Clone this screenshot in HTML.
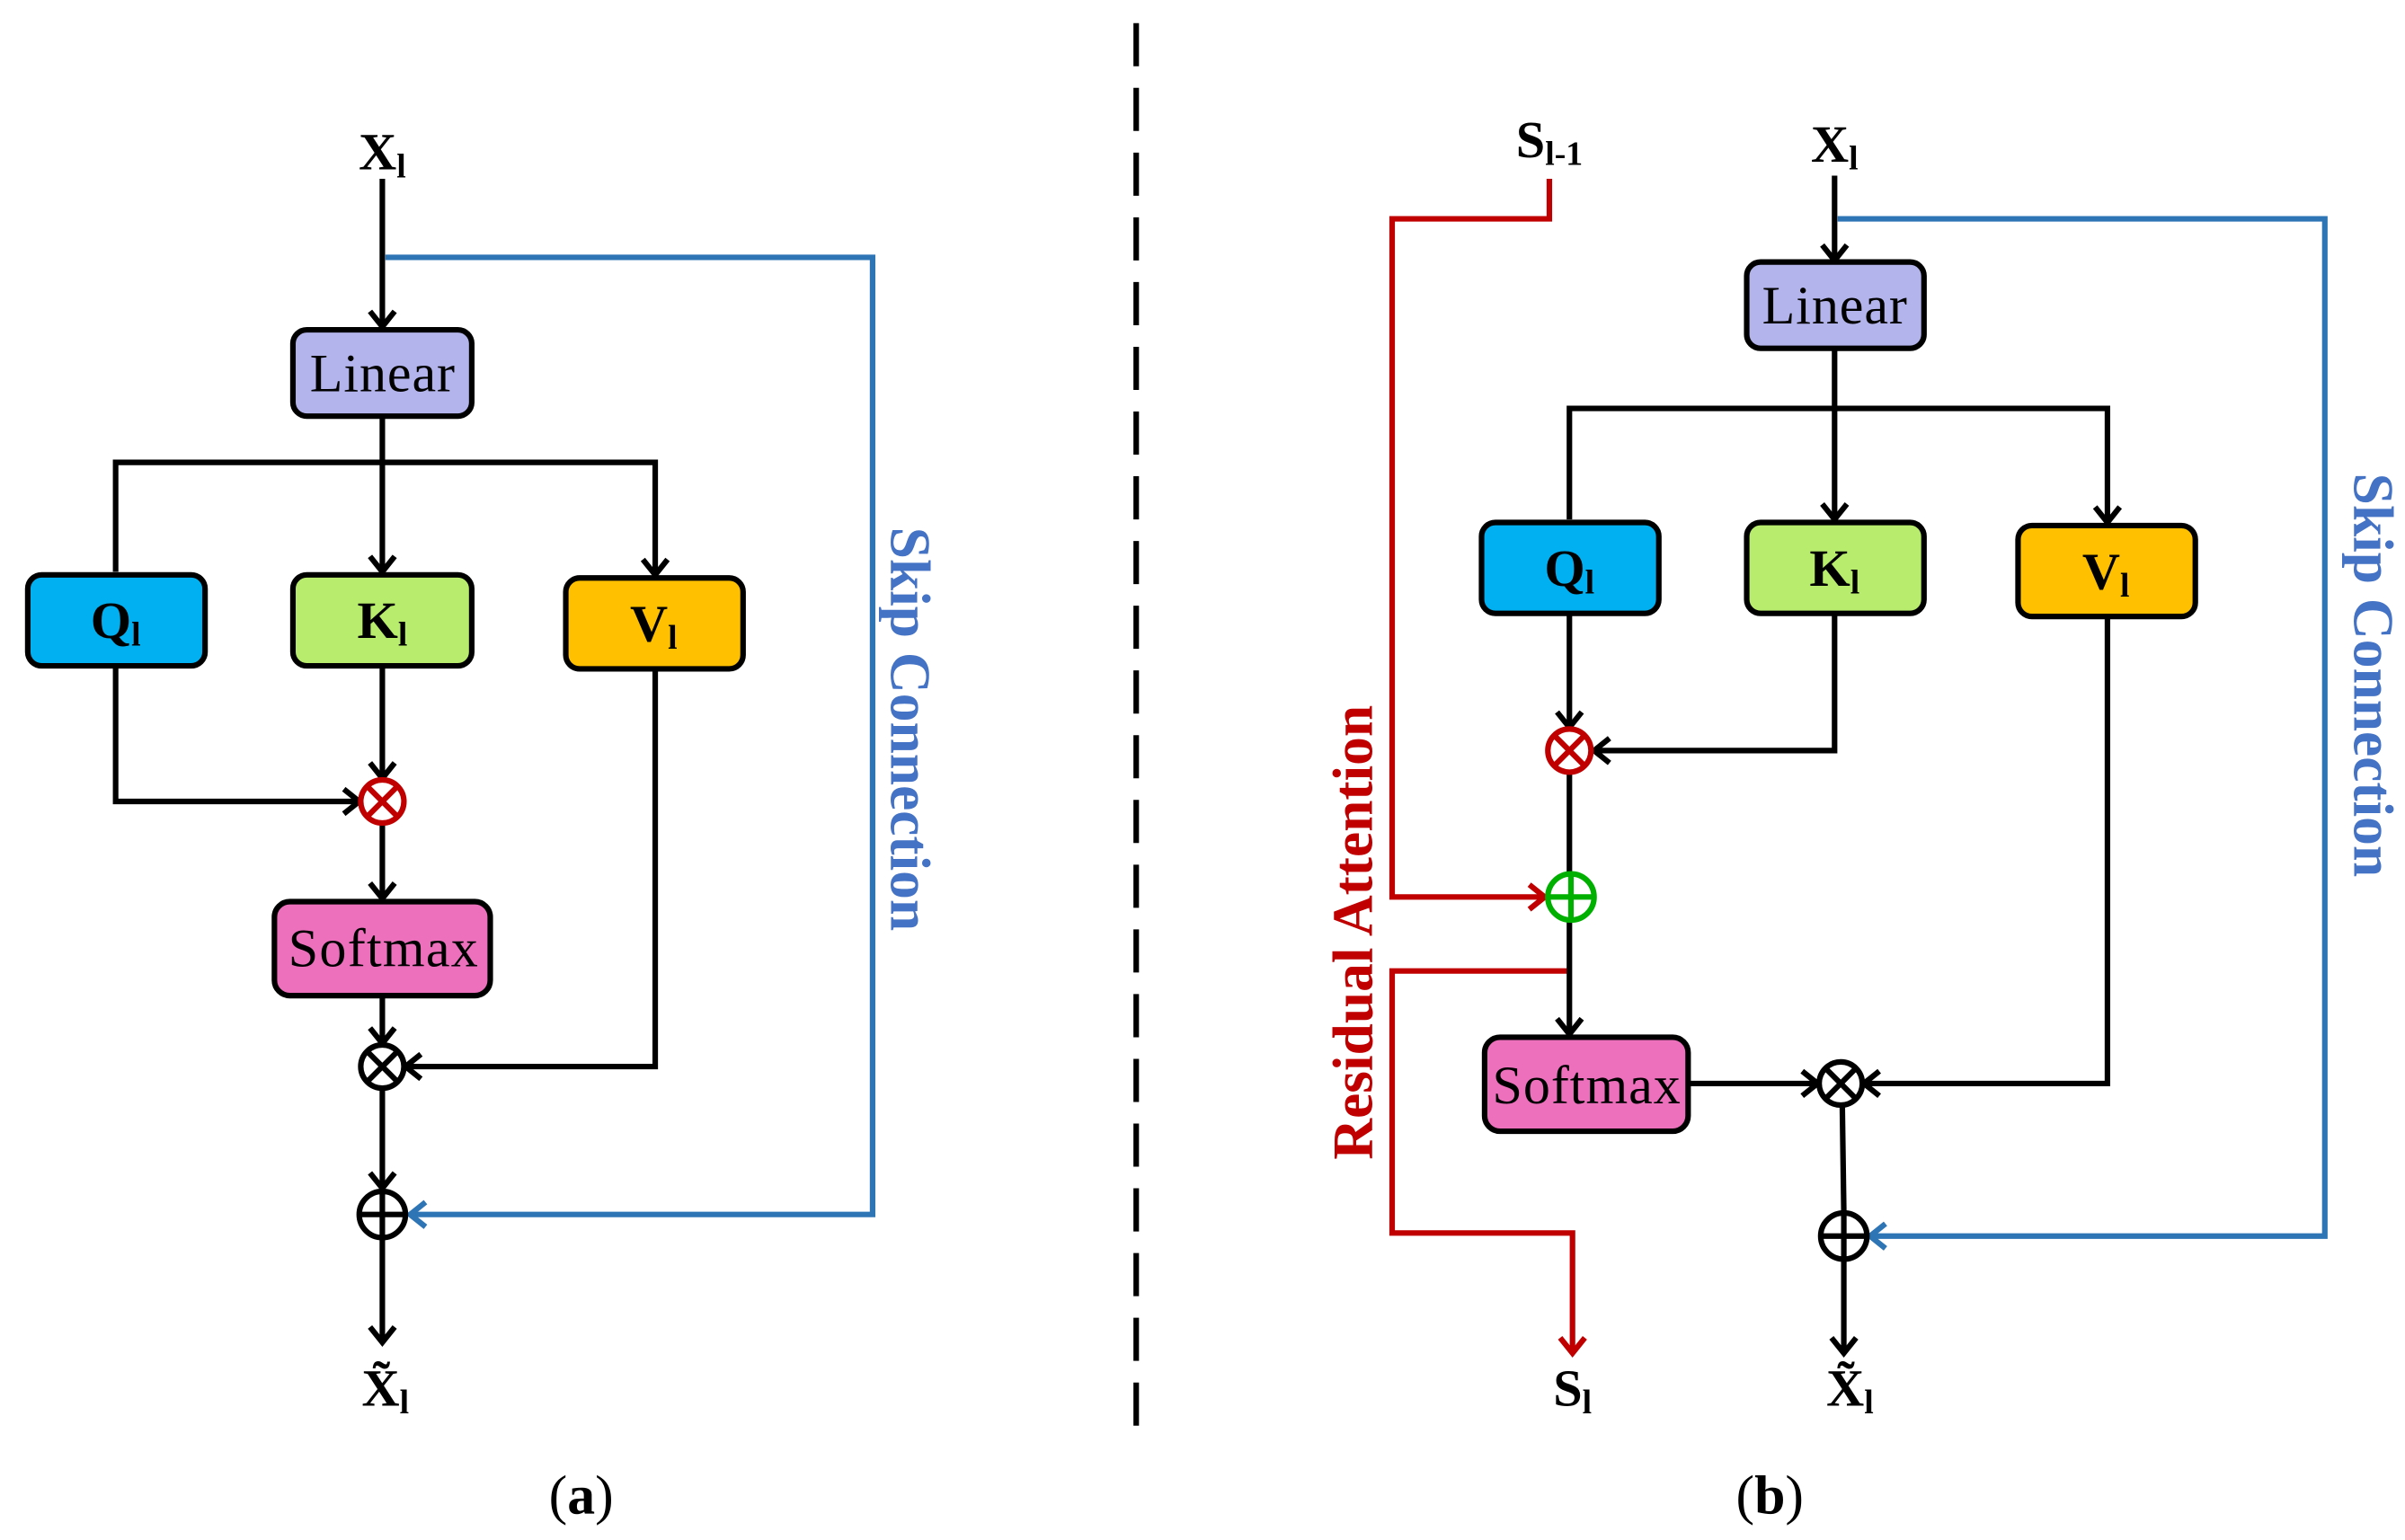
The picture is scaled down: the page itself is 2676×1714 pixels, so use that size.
<!DOCTYPE html>
<html><head><meta charset="utf-8"><style>
html,body{margin:0;padding:0;background:#fff;}
svg{display:block;}
text{font-family:"Liberation Serif",serif;}
</style></head><body>
<svg width="2676" height="1714" viewBox="0 0 1560 999.2" xmlns="http://www.w3.org/2000/svg">
<defs>
<marker id="ak" markerUnits="userSpaceOnUse" markerWidth="30" markerHeight="30" refX="13" refY="10" orient="auto"><polyline points="3,2 13,10 3,18" fill="none" stroke="#000" stroke-width="3.6"/></marker>
<marker id="ar" markerUnits="userSpaceOnUse" markerWidth="30" markerHeight="30" refX="13" refY="10" orient="auto"><polyline points="3,2 13,10 3,18" fill="none" stroke="#c00000" stroke-width="3.6"/></marker>
<marker id="ab" markerUnits="userSpaceOnUse" markerWidth="30" markerHeight="30" refX="13" refY="10" orient="auto"><polyline points="3,2 13,10 3,18" fill="none" stroke="#2e75b6" stroke-width="3.6"/></marker>
</defs>
<g fill="none" stroke-width="3.6" stroke-linejoin="miter">
<polyline points="250,167 566,167 566,788 266,788" stroke="#2e75b6" marker-end="url(#ab)"/>
<line x1="248" y1="116" x2="248" y2="212" stroke="#000" marker-end="url(#ak)"/>
<line x1="248" y1="270" x2="248" y2="371" stroke="#000" marker-end="url(#ak)"/>
<polyline points="75,371 75,300 425,300 425,373" stroke="#000" marker-end="url(#ak)"/>
<line x1="248" y1="432" x2="248" y2="505" stroke="#000" marker-end="url(#ak)"/>
<polyline points="75,432 75,520 233,520" stroke="#000" marker-end="url(#ak)"/>
<line x1="248" y1="534" x2="248" y2="583" stroke="#000" marker-end="url(#ak)"/>
<line x1="248" y1="646" x2="248" y2="677" stroke="#000" marker-end="url(#ak)"/>
<polyline points="425,434 425,692 263,692" stroke="#000" marker-end="url(#ak)"/>
<line x1="248" y1="706" x2="248" y2="771" stroke="#000" marker-end="url(#ak)"/>
<line x1="248" y1="804" x2="248" y2="871" stroke="#000" marker-end="url(#ak)"/>
<line x1="737" y1="15" x2="737" y2="928" stroke="#000" stroke-dasharray="28,14"/>
<polyline points="1005,116 1005,142 903,142 903,582 1002,582" stroke="#c00000" marker-end="url(#ar)"/>
<polyline points="1018,630 903,630 903,800 1020,800 1020,878" stroke="#c00000" marker-end="url(#ar)"/>
<polyline points="1192,142 1508,142 1508,802 1213,802" stroke="#2e75b6" marker-end="url(#ab)"/>
<line x1="1190" y1="114" x2="1190" y2="169" stroke="#000" marker-end="url(#ak)"/>
<line x1="1190" y1="226" x2="1190" y2="337" stroke="#000" marker-end="url(#ak)"/>
<polyline points="1018,337 1018,265 1367,265 1367,339" stroke="#000" marker-end="url(#ak)"/>
<line x1="1018" y1="398" x2="1018" y2="472" stroke="#000" marker-end="url(#ak)"/>
<polyline points="1190,398 1190,487 1034,487" stroke="#000" marker-end="url(#ak)"/>
<line x1="1018" y1="501" x2="1018" y2="566" stroke="#000"/>
<line x1="1018" y1="598" x2="1018" y2="671" stroke="#000" marker-end="url(#ak)"/>
<line x1="1095" y1="703" x2="1179" y2="703" stroke="#000" marker-end="url(#ak)"/>
<polyline points="1367,400 1367,703 1209,703" stroke="#000" marker-end="url(#ak)"/>
<line x1="1195" y1="717" x2="1196" y2="786" stroke="#000"/>
<line x1="1196" y1="818" x2="1196" y2="878" stroke="#000" marker-end="url(#ak)"/>
</g>
<g stroke="#000" stroke-width="3.6">
<rect x="190" y="214" width="116" height="56" rx="9" fill="#b4b4ec"/>
<rect x="18" y="373" width="115" height="59" rx="9" fill="#00b0f0"/>
<rect x="190" y="373" width="116" height="59" rx="9" fill="#b8ec6c"/>
<rect x="367" y="375" width="115" height="59" rx="9" fill="#ffc000"/>
<rect x="178" y="585" width="140" height="61" rx="10" fill="#ec70bc"/>
<rect x="1133" y="170" width="115" height="56" rx="9" fill="#b4b4ec"/>
<rect x="961" y="339" width="115" height="59" rx="9" fill="#00b0f0"/>
<rect x="1133" y="339" width="115" height="59" rx="9" fill="#b8ec6c"/>
<rect x="1309" y="341" width="115" height="59" rx="9" fill="#ffc000"/>
<rect x="963" y="673" width="132" height="61" rx="10" fill="#ec70bc"/>
</g>
<g fill="#fff" stroke-width="3.6">
<g stroke="#c00000"><circle cx="248" cy="520" r="14"/><line x1="238" y1="510" x2="258" y2="530"/><line x1="258" y1="510" x2="238" y2="530"/></g>
<g stroke="#000"><circle cx="248" cy="692" r="14"/><line x1="238" y1="682" x2="258" y2="702"/><line x1="258" y1="682" x2="238" y2="702"/></g>
<g stroke="#000"><circle cx="248" cy="788" r="15"/><line x1="233" y1="788" x2="263" y2="788"/><line x1="248" y1="773" x2="248" y2="803"/></g>
<g stroke="#c00000"><circle cx="1018" cy="487" r="14"/><line x1="1008" y1="477" x2="1028" y2="497"/><line x1="1028" y1="477" x2="1008" y2="497"/></g>
<g stroke="#00b000"><circle cx="1019" cy="582" r="15"/><line x1="1004" y1="582" x2="1034" y2="582"/><line x1="1019" y1="567" x2="1019" y2="597"/></g>
<g stroke="#000"><circle cx="1194" cy="703" r="14"/><line x1="1184" y1="693" x2="1204" y2="713"/><line x1="1204" y1="693" x2="1184" y2="713"/></g>
<g stroke="#000"><circle cx="1196" cy="802" r="15"/><line x1="1181" y1="802" x2="1211" y2="802"/><line x1="1196" y1="787" x2="1196" y2="817"/></g>
</g>
<g text-anchor="middle" fill="#000">
<text x="248" y="254" font-size="35" textLength="94">Linear</text>
<text x="1190" y="210" font-size="35" textLength="94">Linear</text>
<text x="187" y="627" font-size="35" text-anchor="start" textLength="123">Softmax</text>
<text x="968" y="716" font-size="35" text-anchor="start" textLength="122">Softmax</text>
<g font-weight="bold" font-size="34">
<text x="75" y="414">Q<tspan font-size="22" dy="5">l</tspan></text>
<text x="248" y="414">K<tspan font-size="22" dy="5">l</tspan></text>
<text x="424" y="416">V<tspan font-size="22" dy="5">l</tspan></text>
<text x="1018" y="380">Q<tspan font-size="22" dy="5">l</tspan></text>
<text x="1190" y="380">K<tspan font-size="22" dy="5">l</tspan></text>
<text x="1366" y="382">V<tspan font-size="22" dy="5">l</tspan></text>
<text x="248" y="110">X<tspan font-size="22" dy="5">l</tspan></text>
<text x="1190" y="105">X<tspan font-size="22" dy="5">l</tspan></text>
<text x="1005" y="102">S<tspan font-size="22" dy="5">l-1</tspan></text>
<text x="1020" y="912">S<tspan font-size="22" dy="5">l</tspan></text>
<text x="250" y="912">X̃<tspan font-size="22" dy="5">l</tspan></text>
<text x="1200" y="912">X̃<tspan font-size="22" dy="5">l</tspan></text>
<text x="377" y="982" font-size="36" font-weight="normal">(<tspan font-weight="bold">a</tspan>)</text>
<text x="1148" y="982" font-size="36" font-weight="normal">(<tspan font-weight="bold">b</tspan>)</text>
</g>
<g font-weight="bold" font-size="37">
<text transform="translate(578,473) rotate(90)" fill="#4472c4">Skip  Connection</text>
<text transform="translate(1527,438) rotate(90)" fill="#4472c4">Skip  Connection</text>
<text transform="translate(890,605) rotate(-90)" fill="#c00000">Residual Attention</text>
</g>
</g>
</svg>
</body></html>
